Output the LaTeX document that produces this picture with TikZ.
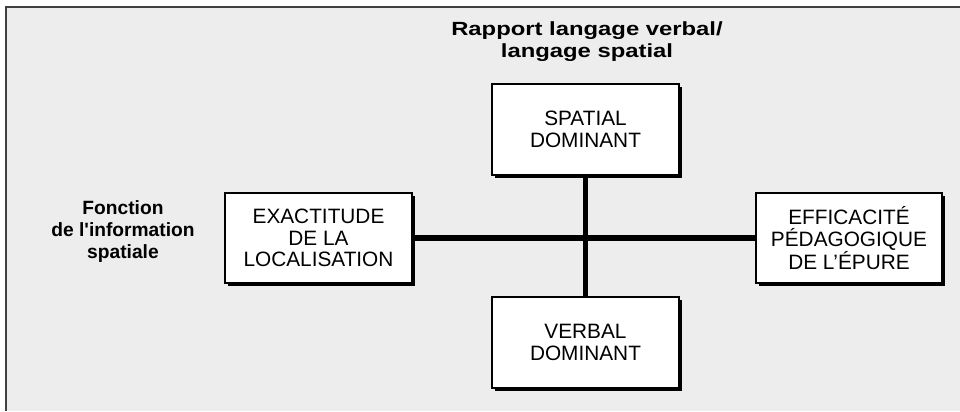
\documentclass[tikz,border=0pt]{standalone}
\usepackage{fontspec}
\setmainfont{Liberation Sans}
\newfontfamily\headfont[FakeStretch=1.25]{Liberation Sans Bold}
\newfontfamily\sidefont{Liberation Sans Bold}
\usetikzlibrary{shadows}

\begin{document}
\begin{tikzpicture}[style=thick,x=0.75pt,y=0.75pt]
\tikzstyle{box}=[draw, line width=1.4pt, fill=white, align=center, minimum width=140pt, minimum height=68pt, inner sep=0pt, font=\fontsize{15.6}{16.2}\selectfont, drop shadow={shadow xshift=2.2pt, shadow yshift=-2.2pt, fill=black, opacity=1}]
\tikzstyle{head}=[align=center, inner sep=0pt, font=\headfont\fontsize{14.3}{16.5}\selectfont]
\tikzstyle{side}=[align=center, inner sep=0pt, font=\sidefont\fontsize{14.4}{16.5}\selectfont]
\tikzstyle{axis}=[line width=4pt]

\useasboundingbox (0,0) rectangle (960,411);
\fill[black!7] (6,0) rectangle (960,404);
\draw[line width=1.5pt, black!75] (6,0) -- (6,404) -- (960,404);

\node[head] (T) at (587,369) {Rapport langage verbal/\\langage spatial};
\node[side] (L) at (123,179) {Fonction\\de l'information\\spatiale};

\node[box] (S) at (585.5,281.5) {SPATIAL\\DOMINANT};
\node[box] (V) at (585.5,68.5) {VERBAL\\DOMINANT};
\node[box] (E) at (318.5,173) {EXACTITUDE\\DE LA\\LOCALISATION};
\node[box] (F) at (849,173) {EFFICACITÉ\\PÉDAGOGIQUE\\DE L'ÉPURE};

\draw[axis] (E) -- (F);
\draw[axis] (S) -- (V);
\end{tikzpicture}
\end{document}
